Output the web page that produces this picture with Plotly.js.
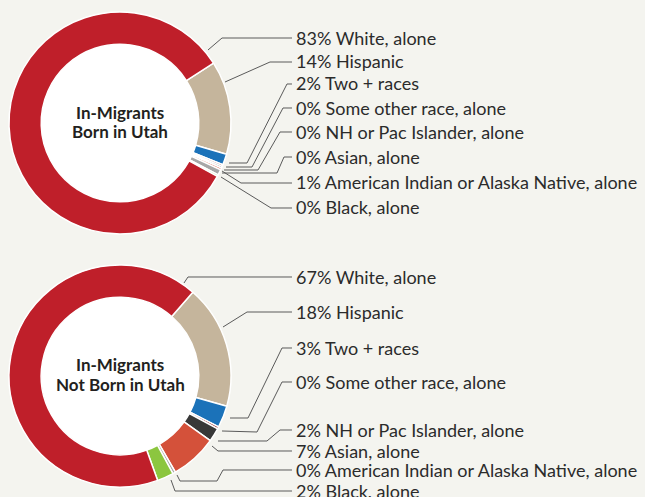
<!DOCTYPE html>
<html>
<head>
<meta charset="utf-8">
<script src="https://cdn.plot.ly/plotly-3.0.1.min.js"></script>
<style>html,body{margin:0;padding:0;background:#f4f4ef;}#chart{width:645px;height:497px;}</style>
</head>
<body>
<div id="chart"></div>
<script>
// ---- data ----
const categories = ["Hispanic", "Two + races", "Some other race, alone", "NH or Pac Islander, alone",
  "Asian, alone", "American Indian or Alaska Native, alone", "Black, alone", "White, alone"];
const bornInUtah = [13.6, 1.6, 0.25, 0.25, 0.3, 0.8, 0.25, 82.95];
const notBornInUtah = [18, 3.2, 0.3, 2, 6.8, 0.4, 2.4, 66.9];
const chartTitleLines = [["In-Migrants", "Born in Utah"], ["In-Migrants", "Not Born in Utah"]];
// label order (top to bottom) as indices into categories
const labelOrder = [7, 0, 1, 2, 3, 4, 5, 6];

// ---- styles / layout ----
const colors = ["#c5b59c", "#1b72b9", "#8e1d22", "#383838", "#d4513a", "#a7a7a7", "#8cc63f", "#bf1f2a"];
const W = 645, H = 497;
const FONT = "Lato, 'Open Sans', sans-serif";
const donuts = [
  {cx: 120, cy: 123, R: 111, rot: 57.4, titleDy: [-11, 8], labelY: [38, 62, 84, 108, 132, 157, 182, 207],
   leaders: [
     [[292,38],[222,38],[208,50]],
     [[292,62],[270,62],[225,82]],
     [[292,84],[287,84],[247,163],[229,163]],
     [[292,108],[283,108],[252,167],[226,167]],
     [[292,132],[280,132],[258,170],[224,170]],
     [[292,157],[284,157],[277,173],[222,173]],
     [[292,183],[241,183],[222,171]],
     [[292,208],[271,208],[221,177]]
   ]},
  {cx: 120, cy: 376, R: 111, rot: 41, titleDy: [-12, 8], labelY: [277, 312, 348, 382, 430, 451, 470, 491],
   leaders: [
     [[292,277],[188,277],[184,283]],
     [[292,312],[247,312],[223,327]],
     [[292,348],[282,348],[248,418],[230,418]],
     [[292,382],[282,382],[257,432],[222,431]],
     [[292,430],[280,430],[267,441],[218,441]],
     [[292,451],[218,451],[212,446]],
     [[292,470],[223,470],[217,481],[180,481],[177,475]],
     [[292,491],[175,491],[171,480]]
   ]}
];
const seriesList = [bornInUtah, notBornInUtah];
const HOLE = 0.71;

const px = x => x / W;
const py = y => 1 - y / H;

const traces = [];
const shapes = [];
const annotations = [];

donuts.forEach((d, k) => {
  const vals = seriesList[k];
  traces.push({
    type: "pie",
    values: vals,
    labels: categories,
    sort: false,
    direction: "clockwise",
    rotation: d.rot,
    hole: HOLE,
    marker: {colors: colors, line: {color: "#ffffff", width: 1.5}},
    textinfo: "none",
    hoverinfo: "label+percent",
    showlegend: false,
    domain: {x: [px(d.cx - d.R), px(d.cx + d.R)], y: [py(d.cy + d.R), py(d.cy - d.R)]}
  });
  // white hole
  const r = d.R * HOLE + 2;
  shapes.push({type: "circle", xref: "paper", yref: "paper", layer: "below",
    x0: px(d.cx - r), x1: px(d.cx + r), y0: py(d.cy + r), y1: py(d.cy - r),
    fillcolor: "#ffffff", line: {width: 0}});
  // center title (two lines)
  chartTitleLines[k].forEach((t, i) => {
    annotations.push({xref: "paper", yref: "paper", x: px(d.cx), y: py(d.cy + d.titleDy[i]),
      xanchor: "center", yanchor: "middle", showarrow: false, text: "<b>" + t + "</b>",
      font: {family: FONT, size: 17, color: "#231f20"}});
  });
  // labels + leaders
  const total = vals.reduce((a, b) => a + b, 0);
  labelOrder.forEach((ci, j) => {
    const pct = Math.round(vals[ci] / total * 100);
    annotations.push({xref: "paper", yref: "paper", x: px(294), y: py(d.labelY[j] - 0.5),
      xanchor: "left", yanchor: "middle", showarrow: false,
      text: pct + "% " + categories[ci],
      font: {family: FONT, size: 18, color: "#2b2b2b"}});
    const pts = d.leaders[j];
    const path = pts.map((p, i) => (i ? "L" : "M") + px(p[0]).toFixed(5) + "," + py(p[1]).toFixed(5)).join(" ");
    shapes.push({type: "path", xref: "paper", yref: "paper", layer: "above", path: path,
      line: {color: "#5a5a5a", width: 1}});
  });
});

const layout = {
  width: W, height: H,
  margin: {l: 0, r: 0, t: 0, b: 0},
  paper_bgcolor: "#f4f4ef",
  plot_bgcolor: "#f4f4ef",
  showlegend: false,
  shapes: shapes,
  annotations: annotations
};
Plotly.newPlot("chart", traces, layout, {displayModeBar: false, staticPlot: true});
</script>
</body>
</html>
